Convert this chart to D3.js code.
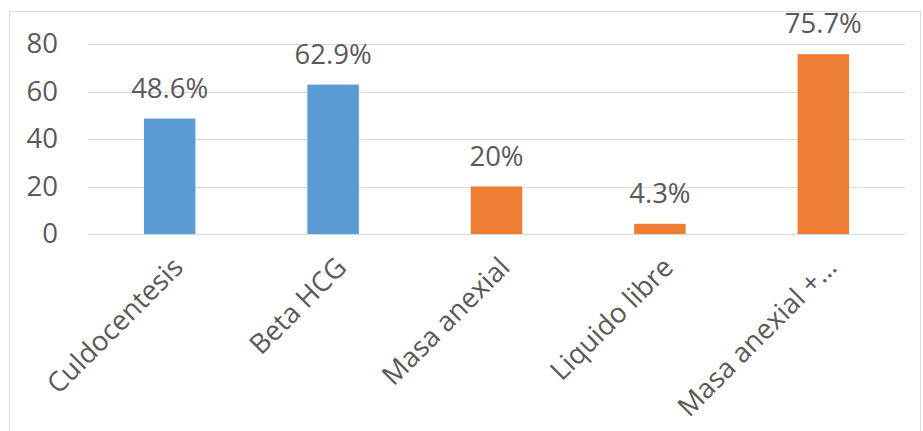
<!DOCTYPE html>
<html>
<head>
<meta charset="utf-8">
<script src="https://cdn.jsdelivr.net/npm/d3@7"></script>
<style>
  body { margin: 0; background: #fff; }
  text { font-family: "Open Sans", sans-serif; fill: #595959; }
</style>
</head>
<body>
<div id="vis"></div>
<script>
// data
const CATEGORIES = ["Culdocentesis", "Beta HCG", "Masa anexial", "Liquido libre", "Masa anexial +…"];
const VALUES = [48.6, 62.9, 20, 4.3, 75.7];
const LABELS = ["48.6%", "62.9%", "20%", "4.3%", "75.7%"];
const GROUPS = ["a", "a", "b", "b", "b"];
const Y_TICKS = [0, 20, 40, 60, 80];

// frame constants
const FRAME_WIDTH = 923;
const FRAME_HEIGHT = 431;
const MARGINS = {left: 88, right: 18, top: 44, bottom: 197};
const VIS_WIDTH = FRAME_WIDTH - MARGINS.left - MARGINS.right;
const VIS_HEIGHT = FRAME_HEIGHT - MARGINS.top - MARGINS.bottom;
const FONT_SIZE = "27.5px";

const FRAME = d3.select("#vis")
                .append("svg")
                  .attr("width", FRAME_WIDTH)
                  .attr("height", FRAME_HEIGHT);

// chart border
FRAME.append("rect")
      .attr("x", 9.5)
      .attr("y", 11.5)
      .attr("width", 911)
      .attr("height", 440)
      .attr("fill", "none")
      .attr("stroke", "#d9d9d9");

// scales
const X_SCALE = d3.scaleBand()
                  .domain(CATEGORIES)
                  .range([0, VIS_WIDTH])
                  .paddingInner(0.685)
                  .paddingOuter(0.3425);
const Y_SCALE = d3.scaleLinear()
                  .domain([0, 80])
                  .range([VIS_HEIGHT, 0]);
const COLOR = d3.scaleOrdinal()
                .domain(["a", "b"])
                .range(["#5b9bd5", "#ed7d31"]);

const G = FRAME.append("g")
               .attr("transform", "translate(" + MARGINS.left + "," + MARGINS.top + ")");

// gridlines
G.append("g")
  .selectAll("line")
  .data(Y_TICKS)
  .enter()
  .append("line")
    .attr("x1", 0)
    .attr("x2", VIS_WIDTH)
    .attr("y1", (d) => { return Math.round(Y_SCALE(d)) + 0.5; })
    .attr("y2", (d) => { return Math.round(Y_SCALE(d)) + 0.5; })
    .attr("stroke", "#d9d9d9")
    .attr("stroke-width", 1);

// y axis labels
const yAxis = G.append("g")
  .call(d3.axisLeft(Y_SCALE).tickValues(Y_TICKS).tickSize(0).tickPadding(30));
yAxis.select(".domain").remove();
yAxis.selectAll("text")
  .attr("font-size", FONT_SIZE)
  .attr("font-family", "Open Sans, sans-serif")
  .attr("fill", "#595959");

// bars
G.selectAll(".bar")
  .data(VALUES)
  .enter()
  .append("rect")
    .attr("class", "bar")
    .attr("x", (d, i) => { return X_SCALE(CATEGORIES[i]); })
    .attr("y", (d) => { return Y_SCALE(d); })
    .attr("width", X_SCALE.bandwidth())
    .attr("height", (d) => { return VIS_HEIGHT - Y_SCALE(d); })
    .attr("fill", (d, i) => { return COLOR(GROUPS[i]); });

// value labels
G.selectAll(".lbl")
  .data(VALUES)
  .enter()
  .append("text")
    .attr("class", "lbl")
    .attr("x", (d, i) => { return X_SCALE(CATEGORIES[i]) + X_SCALE.bandwidth() / 2; })
    .attr("y", (d) => { return Y_SCALE(d) - 21; })
    .attr("text-anchor", "middle")
    .attr("font-size", FONT_SIZE)
    .text((d, i) => { return LABELS[i]; });

// x axis labels
const xAxis = G.append("g")
  .attr("transform", "translate(0," + VIS_HEIGHT + ")")
  .call(d3.axisBottom(X_SCALE).tickSize(0).tickPadding(0));
xAxis.select(".domain").remove();
xAxis.selectAll("text")
  .attr("font-size", FONT_SIZE)
  .attr("font-family", "Open Sans, sans-serif")
  .attr("fill", "#595959")
  .attr("text-anchor", "end")
  .attr("dy", null)
  .attr("y", 0)
  .attr("transform", "translate(15,35) rotate(-45)");
</script>
</body>
</html>
